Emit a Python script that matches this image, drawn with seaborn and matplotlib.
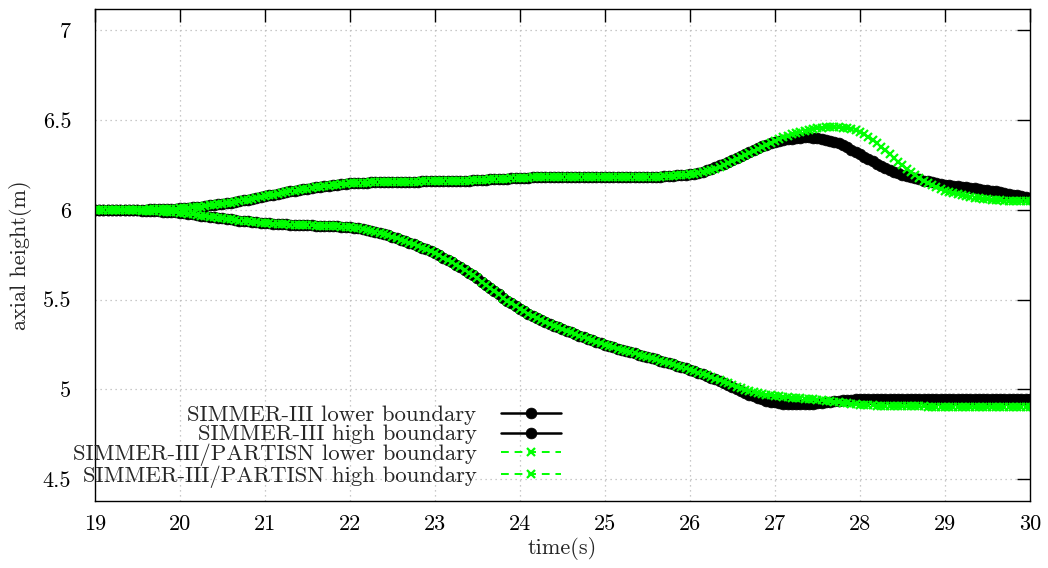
import numpy as np
import pandas as pd
import matplotlib
matplotlib.use("Agg")
import matplotlib.pyplot as plt
import seaborn as sns

# time axis: 19 s to 30 s, one sample every 0.05 s
t_start, t_end, t_step = 19.0, 30.0, 0.05
time = np.round(np.arange(t_start, t_end + t_step / 2, t_step), 2)

# SIMMER-III, upper (high) boundary of the region [m]
simmer_high = [
    6.000, 6.000, 6.000, 6.000, 6.000, 6.000, 6.000, 6.000, 6.000, 6.000,
    6.000, 6.001, 6.001, 6.002, 6.002, 6.003, 6.004, 6.005, 6.006, 6.007,
    6.008, 6.010, 6.012, 6.014, 6.016, 6.018, 6.021, 6.024, 6.027, 6.030,
    6.032, 6.036, 6.040, 6.044, 6.048, 6.052, 6.056, 6.061, 6.066, 6.071,
    6.075, 6.080, 6.084, 6.089, 6.093, 6.098, 6.102, 6.106, 6.110, 6.114,
    6.118, 6.122, 6.125, 6.129, 6.132, 6.135, 6.138, 6.140, 6.143, 6.145,
    6.147, 6.148, 6.150, 6.151, 6.152, 6.153, 6.153, 6.154, 6.154, 6.155,
    6.155, 6.155, 6.156, 6.156, 6.156, 6.157, 6.157, 6.158, 6.158, 6.158,
    6.159, 6.159, 6.160, 6.160, 6.161, 6.162, 6.162, 6.163, 6.163, 6.164,
    6.165, 6.166, 6.167, 6.169, 6.170, 6.171, 6.173, 6.174, 6.175, 6.177,
    6.178, 6.179, 6.180, 6.181, 6.182, 6.182, 6.183, 6.183, 6.184, 6.184,
    6.184, 6.184, 6.184, 6.183, 6.183, 6.183, 6.182, 6.182, 6.182, 6.181,
    6.181, 6.181, 6.181, 6.181, 6.181, 6.181, 6.181, 6.181, 6.182, 6.182,
    6.182, 6.183, 6.184, 6.185, 6.186, 6.188, 6.190, 6.192, 6.194, 6.196,
    6.198, 6.202, 6.207, 6.213, 6.220, 6.228, 6.237, 6.247, 6.258, 6.269,
    6.280, 6.291, 6.302, 6.313, 6.324, 6.335, 6.345, 6.354, 6.362, 6.370,
    6.378, 6.384, 6.389, 6.394, 6.397, 6.400, 6.402, 6.403, 6.403, 6.402,
    6.399, 6.396, 6.391, 6.385, 6.378, 6.370, 6.360, 6.348, 6.336, 6.323,
    6.310, 6.297, 6.284, 6.271, 6.258, 6.245, 6.234, 6.223, 6.213, 6.204,
    6.195, 6.188, 6.181, 6.175, 6.169, 6.163, 6.158, 6.153, 6.148, 6.144,
    6.140, 6.137, 6.134, 6.131, 6.128, 6.125, 6.122, 6.119, 6.116, 6.113,
    6.110, 6.106, 6.102, 6.098, 6.094, 6.090, 6.085, 6.080, 6.075, 6.070,
    6.065,
]

# SIMMER-III, lower boundary [m]
simmer_low = [
    6.000, 6.000, 6.000, 6.000, 6.000, 5.999, 5.999, 5.999, 5.998, 5.998,
    5.997, 5.996, 5.995, 5.994, 5.993, 5.992, 5.990, 5.989, 5.987, 5.985,
    5.983, 5.980, 5.977, 5.974, 5.971, 5.968, 5.965, 5.962, 5.958, 5.955,
    5.952, 5.949, 5.946, 5.943, 5.940, 5.938, 5.935, 5.933, 5.931, 5.929,
    5.927, 5.925, 5.923, 5.922, 5.920, 5.919, 5.918, 5.917, 5.916, 5.915,
    5.914, 5.913, 5.912, 5.911, 5.910, 5.909, 5.908, 5.907, 5.906, 5.905,
    5.902, 5.899, 5.896, 5.892, 5.888, 5.883, 5.877, 5.871, 5.864, 5.857,
    5.849, 5.841, 5.833, 5.825, 5.816, 5.807, 5.798, 5.789, 5.779, 5.769,
    5.758, 5.746, 5.734, 5.721, 5.707, 5.693, 5.679, 5.664, 5.649, 5.634,
    5.618, 5.600, 5.582, 5.564, 5.546, 5.528, 5.511, 5.494, 5.478, 5.463,
    5.449, 5.435, 5.421, 5.408, 5.396, 5.384, 5.373, 5.363, 5.353, 5.344,
    5.335, 5.326, 5.317, 5.308, 5.299, 5.290, 5.281, 5.272, 5.263, 5.255,
    5.247, 5.239, 5.233, 5.226, 5.219, 5.213, 5.206, 5.200, 5.193, 5.187,
    5.180, 5.173, 5.166, 5.159, 5.152, 5.145, 5.138, 5.131, 5.123, 5.116,
    5.108, 5.100, 5.092, 5.083, 5.074, 5.065, 5.055, 5.045, 5.035, 5.024,
    5.013, 5.002, 4.991, 4.980, 4.970, 4.960, 4.951, 4.943, 4.936, 4.930,
    4.926, 4.922, 4.920, 4.918, 4.917, 4.917, 4.917, 4.918, 4.919, 4.920,
    4.922, 4.924, 4.926, 4.929, 4.932, 4.935, 4.938, 4.940, 4.942, 4.944,
    4.945, 4.946, 4.946, 4.947, 4.947, 4.947, 4.947, 4.947, 4.947, 4.947,
    4.947, 4.947, 4.947, 4.947, 4.947, 4.947, 4.947, 4.947, 4.947, 4.947,
    4.947, 4.947, 4.947, 4.947, 4.947, 4.947, 4.947, 4.947, 4.947, 4.947,
    4.947, 4.947, 4.947, 4.947, 4.947, 4.947, 4.947, 4.947, 4.947, 4.947,
    4.947,
]

# SIMMER-III/PARTISN, upper (high) boundary [m]
partisn_high = [
    6.000, 6.000, 6.000, 6.000, 6.000, 6.000, 6.000, 6.000, 6.000, 6.000,
    6.000, 6.001, 6.001, 6.002, 6.002, 6.003, 6.004, 6.005, 6.006, 6.007,
    6.008, 6.010, 6.012, 6.014, 6.016, 6.018, 6.021, 6.024, 6.027, 6.030,
    6.032, 6.036, 6.040, 6.044, 6.048, 6.052, 6.056, 6.061, 6.066, 6.071,
    6.075, 6.080, 6.084, 6.089, 6.093, 6.098, 6.102, 6.106, 6.110, 6.114,
    6.118, 6.122, 6.125, 6.129, 6.132, 6.135, 6.138, 6.140, 6.143, 6.145,
    6.147, 6.148, 6.150, 6.151, 6.152, 6.153, 6.153, 6.154, 6.154, 6.155,
    6.155, 6.155, 6.156, 6.156, 6.156, 6.157, 6.157, 6.158, 6.158, 6.158,
    6.159, 6.159, 6.160, 6.160, 6.161, 6.162, 6.162, 6.163, 6.163, 6.164,
    6.165, 6.166, 6.167, 6.169, 6.170, 6.171, 6.173, 6.174, 6.175, 6.177,
    6.178, 6.179, 6.180, 6.181, 6.182, 6.182, 6.183, 6.183, 6.184, 6.184,
    6.184, 6.184, 6.184, 6.183, 6.183, 6.183, 6.182, 6.182, 6.182, 6.181,
    6.181, 6.181, 6.181, 6.181, 6.181, 6.181, 6.181, 6.181, 6.182, 6.182,
    6.182, 6.183, 6.184, 6.185, 6.186, 6.188, 6.190, 6.192, 6.194, 6.196,
    6.197, 6.200, 6.204, 6.209, 6.215, 6.222, 6.230, 6.239, 6.249, 6.259,
    6.270, 6.281, 6.292, 6.303, 6.315, 6.327, 6.339, 6.351, 6.362, 6.373,
    6.384, 6.394, 6.403, 6.412, 6.420, 6.428, 6.435, 6.441, 6.446, 6.451,
    6.455, 6.458, 6.460, 6.461, 6.461, 6.460, 6.458, 6.455, 6.450, 6.442,
    6.432, 6.420, 6.405, 6.388, 6.370, 6.351, 6.331, 6.310, 6.289, 6.268,
    6.248, 6.228, 6.210, 6.193, 6.177, 6.162, 6.149, 6.137, 6.126, 6.116,
    6.107, 6.099, 6.092, 6.086, 6.080, 6.075, 6.071, 6.067, 6.064, 6.061,
    6.058, 6.056, 6.054, 6.052, 6.051, 6.050, 6.049, 6.048, 6.048, 6.047,
    6.047,
]

# SIMMER-III/PARTISN, lower boundary [m]
partisn_low = [
    6.000, 6.000, 6.000, 6.000, 6.000, 5.999, 5.999, 5.999, 5.998, 5.998,
    5.997, 5.996, 5.995, 5.994, 5.993, 5.992, 5.990, 5.989, 5.987, 5.985,
    5.983, 5.980, 5.977, 5.974, 5.971, 5.968, 5.965, 5.962, 5.958, 5.955,
    5.952, 5.949, 5.946, 5.943, 5.940, 5.938, 5.935, 5.933, 5.931, 5.929,
    5.927, 5.925, 5.923, 5.922, 5.920, 5.919, 5.918, 5.917, 5.916, 5.915,
    5.914, 5.913, 5.912, 5.911, 5.910, 5.909, 5.908, 5.907, 5.906, 5.905,
    5.902, 5.899, 5.896, 5.892, 5.888, 5.883, 5.877, 5.871, 5.864, 5.857,
    5.849, 5.841, 5.833, 5.825, 5.816, 5.807, 5.798, 5.789, 5.779, 5.769,
    5.758, 5.746, 5.734, 5.721, 5.707, 5.693, 5.679, 5.664, 5.649, 5.634,
    5.618, 5.600, 5.582, 5.564, 5.546, 5.528, 5.511, 5.494, 5.478, 5.463,
    5.449, 5.435, 5.421, 5.408, 5.396, 5.384, 5.373, 5.363, 5.353, 5.344,
    5.335, 5.326, 5.317, 5.308, 5.299, 5.290, 5.281, 5.272, 5.263, 5.255,
    5.247, 5.239, 5.233, 5.226, 5.219, 5.213, 5.206, 5.200, 5.193, 5.187,
    5.180, 5.173, 5.166, 5.159, 5.152, 5.145, 5.138, 5.131, 5.123, 5.116,
    5.108, 5.101, 5.093, 5.085, 5.077, 5.068, 5.059, 5.050, 5.041, 5.032,
    5.023, 5.014, 5.006, 4.998, 4.991, 4.985, 4.979, 4.974, 4.970, 4.966,
    4.963, 4.960, 4.957, 4.955, 4.953, 4.951, 4.949, 4.947, 4.945, 4.943,
    4.941, 4.939, 4.936, 4.933, 4.930, 4.927, 4.924, 4.921, 4.918, 4.916,
    4.914, 4.912, 4.911, 4.910, 4.909, 4.908, 4.907, 4.906, 4.906, 4.905,
    4.905, 4.905, 4.904, 4.904, 4.904, 4.904, 4.903, 4.903, 4.903, 4.903,
    4.903, 4.903, 4.903, 4.903, 4.902, 4.902, 4.902, 4.902, 4.902, 4.902,
    4.902, 4.902, 4.902, 4.902, 4.902, 4.902, 4.902, 4.902, 4.902, 4.902,
    4.902,
]

series_labels = [
    "SIMMER-III lower boundary",
    "SIMMER-III high boundary",
    "SIMMER-III/PARTISN lower boundary",
    "SIMMER-III/PARTISN high boundary",
]

x_ticks = [19, 20, 21, 22, 23, 24, 25, 26, 27, 28, 29, 30]
x_tick_labels = ["19", "20", "21", "22", "23", "24", "25", "26", "27", "28", "29", "30"]
y_ticks = [4.5, 5.0, 5.5, 6.0, 6.5, 7.0]
y_tick_labels = ["4.5", "5", "5.5", "6", "6.5", "7"]
x_label = "time(s)"
y_label = "axial height(m)"

df = pd.DataFrame({
    "time": time,
    series_labels[0]: simmer_low,
    series_labels[1]: simmer_high,
    series_labels[2]: partisn_low,
    series_labels[3]: partisn_high,
})

sns.set_style("white")
plt.rcParams["font.family"] = ["cmr10", "DejaVu Serif"]
plt.rcParams["mathtext.fontset"] = "cm"
plt.rcParams["axes.formatter.use_mathtext"] = True
plt.rcParams["font.size"] = 16

fig = plt.figure(figsize=(10.48, 5.68), dpi=100)
ax = fig.add_axes([0.0906, 0.118, 0.8922, 0.8664])

black_style = dict(color="black", lw=1.8, marker="o", ms=7.8,
                   mec="black", mfc="black", mew=0.5)
green_style = dict(color="#00ff00", lw=1.4, linestyle=(0, (4, 3)),
                   marker="x", ms=6.2, mec="#00ff00", mew=1.6)

for name, style in zip(series_labels, [black_style, black_style, green_style, green_style]):
    sns.lineplot(data=df, x="time", y=name, ax=ax, label=name, **style)

ax.set_xlim(19, 30)
ax.set_ylim(4.377, 7.12)
ax.set_xticks(x_ticks)
ax.set_xticklabels(x_tick_labels)
ax.set_yticks(y_ticks)
ax.set_yticklabels(y_tick_labels)
ax.set_xlabel(x_label, labelpad=2)
ax.set_ylabel(y_label, labelpad=8)

ax.grid(True, color="#b8b8b8", linestyle=(0, (1, 3)), linewidth=0.9)
ax.set_axisbelow(True)
for sp in ax.spines.values():
    sp.set_visible(True)
    sp.set_color("black")
    sp.set_linewidth(1.0)
ax.tick_params(axis="both", direction="in", length=9.5, width=1.0,
               top=True, right=True, labelsize=16, colors="black")
ax.tick_params(axis="x", pad=10)
ax.tick_params(axis="y", pad=17)

leg = ax.legend(loc="lower right", bbox_to_anchor=(0.511, 0.003),
                frameon=False, markerfirst=False, handlelength=2.65,
                handletextpad=1.08, labelspacing=-0.03, borderpad=0,
                fontsize=16.4)

fig.savefig("out.png", dpi=100)
